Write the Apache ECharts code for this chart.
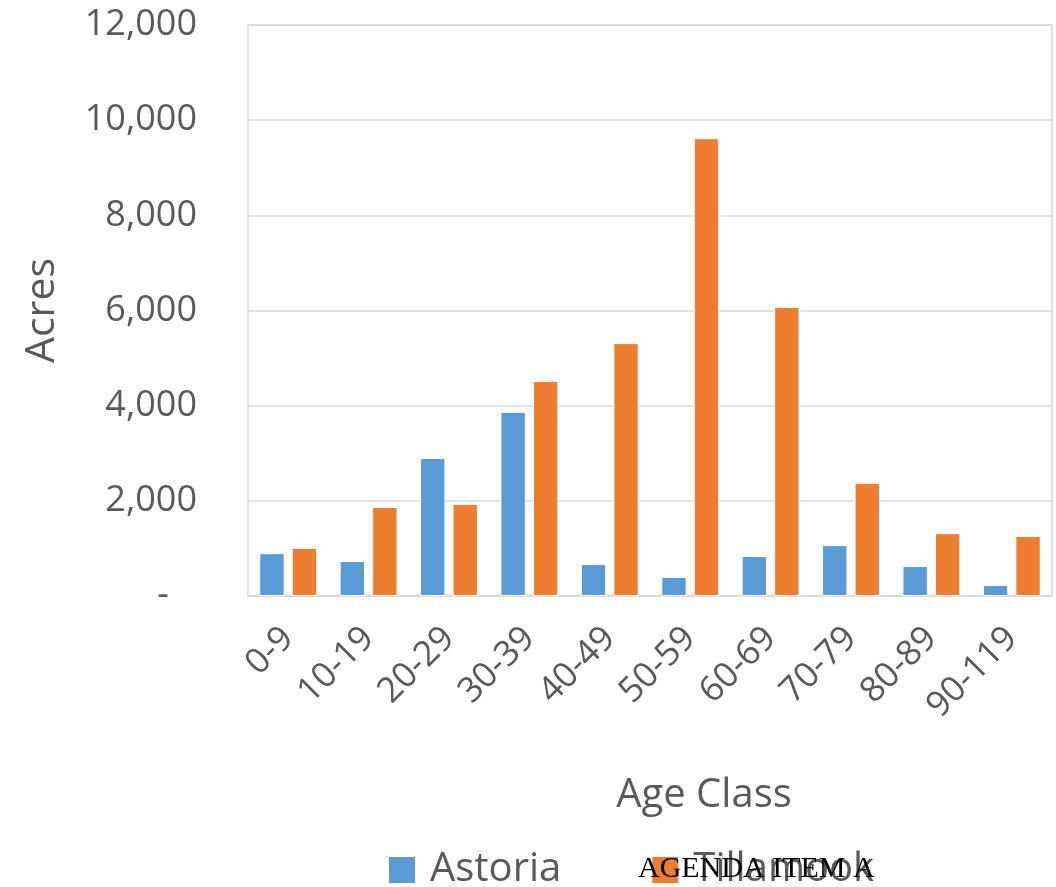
<!DOCTYPE html>
<html>
<head>
<meta charset="utf-8">
<script src="https://cdn.jsdelivr.net/npm/echarts@6/dist/echarts.min.js"></script>
<style>
  html, body { margin: 0; padding: 0; background: #fff; }
  #chart { width: 1056px; height: 887px; }
</style>
</head>
<body>
<div id="chart"></div>
<script>
const ageClasses = ["0-9", "10-19", "20-29", "30-39", "40-49", "50-59", "60-69", "70-79", "80-89", "90-119"];
const astoria = [900, 735, 2900, 3870, 670, 400, 840, 1070, 630, 230];
const tillamook = [1010, 1870, 1935, 4520, 5315, 9620, 6075, 2375, 1320, 1260];
const yTicks = [0, 2000, 4000, 6000, 8000, 10000, 12000];

const gray = "#595959";
const fontFamily = "'Open Sans', sans-serif";

const myChart = echarts.init(document.getElementById("chart"));
myChart.setOption({
  animation: false,
  grid: {
    left: 248,
    right: 4,
    top: 25,
    bottom: 291,
    show: true,
    borderColor: "#d9d9d9",
    borderWidth: 1.5,
  },
  legend: {
    data: ["Astoria", "Tillamook"],
    left: 382,
    top: 845,
    itemWidth: 28,
    itemHeight: 28,
    itemGap: 89,
    icon: "rect",
    textStyle: {
      fontSize: 40,
      color: gray,
      fontFamily: fontFamily,
      padding: [0, 0, 0, 9],
    },
  },
  xAxis: {
    type: "category",
    data: ageClasses,
    name: "Age Class",
    nameLocation: "middle",
    nameGap: 180,
    nameTextStyle: {
      fontSize: 40,
      color: gray,
      fontFamily: fontFamily,
      padding: [0, 0, 0, 108],
    },
    axisLine: { lineStyle: { color: "#d9d9d9", width: 1.5 } },
    axisTick: { show: false },
    axisLabel: {
      rotate: 45,
      fontSize: 35,
      color: gray,
      fontFamily: fontFamily,
      margin: 37,
      interval: 0,
    },
  },
  yAxis: {
    type: "value",
    min: yTicks[0],
    max: yTicks[yTicks.length - 1],
    interval: 2000,
    name: "Acres",
    nameLocation: "middle",
    nameGap: 185,
    nameTextStyle: {
      fontSize: 41,
      color: gray,
      fontFamily: fontFamily,
    },
    axisLine: { show: false },
    axisTick: { show: false },
    splitLine: { lineStyle: { color: "#d9d9d9", width: 1.5 } },
    axisLabel: {
      fontSize: 36,
      color: gray,
      fontFamily: fontFamily,
      margin: 51,
      formatter: (v) => (v === 0 ? "-   " : v.toLocaleString("en-US")),
    },
  },
  series: [
    {
      name: "Astoria",
      type: "bar",
      data: astoria,
      barGap: "28%",
      barCategoryGap: "28%",
      itemStyle: { color: "#5B9BD5", borderColor: "#ffffff", borderWidth: 1 },
    },
    {
      name: "Tillamook",
      type: "bar",
      data: tillamook,
      itemStyle: { color: "#ED7D31", borderColor: "#ffffff", borderWidth: 1 },
    },
  ],
  graphic: [
    {
      type: "text",
      left: 638,
      top: 854,
      z: 100,
      style: {
        text: "AGENDA ITEM A",
        fontSize: 30,
        fontFamily: "'Liberation Serif', serif",
        fill: "#000",
      },
    },
  ],
});
</script>
</body>
</html>
